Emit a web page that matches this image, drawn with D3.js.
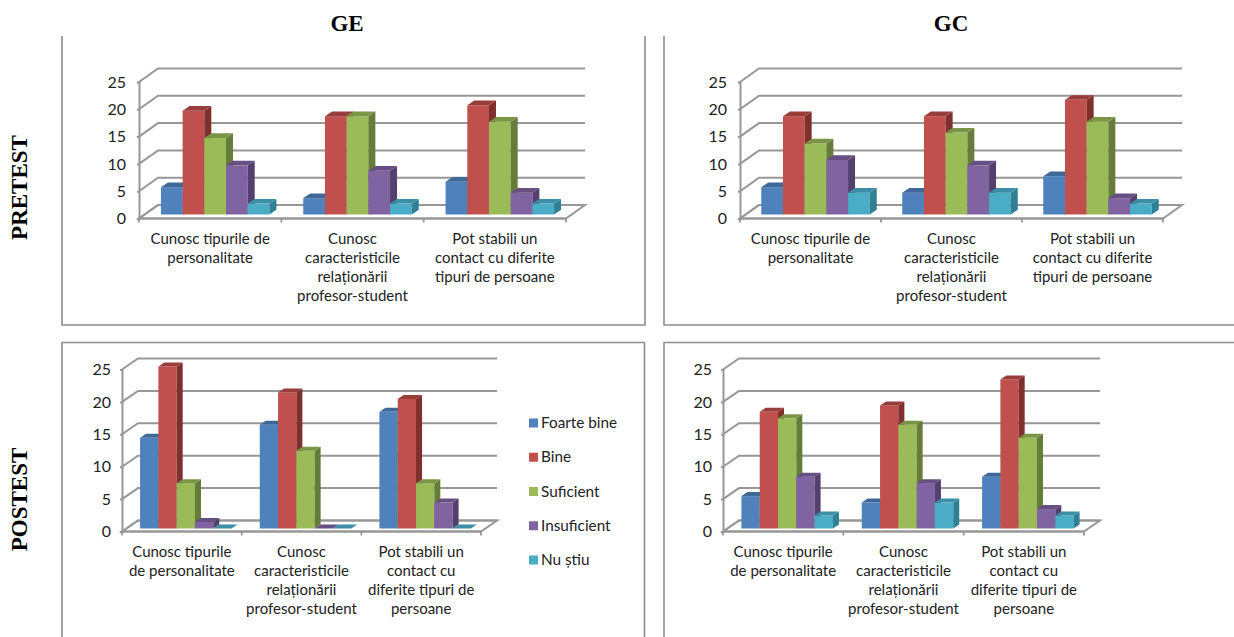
<!DOCTYPE html>
<html>
<head>
<meta charset="utf-8">
<script src="https://cdn.jsdelivr.net/npm/d3@7"></script>
<style>
html, body { margin: 0; padding: 0; background: #fff; }
svg { display: block; }
.lbl { font-family: Lato, sans-serif; fill: #222; }
.head { font-family: "Liberation Serif", serif; font-weight: bold; fill: #000; }
</style>
</head>
<body>
<div id="chart"></div>
<script>
var seriesNames = ['Foarte bine', 'Bine', 'Suficient', 'Insuficient', 'Nu știu'];
var categories = ['a', 'b', 'c'];
var yTicks = [0, 5, 10, 15, 20, 25];

var fronts = ['#4f81bd', '#c0504d', '#9bbb59', '#8064a2', '#4bacc6'];
var sides = ['#385d8a', '#7f2f2d', '#667c3a', '#54406e', '#2f7f95'];
var tops = ['#3f6797', '#983d3a', '#7b9546', '#664f82', '#3b8ea5'];

var labelsTop = [
	['Cunosc tipurile de', 'personalitate'],
	['Cunosc', 'caracteristicile', 'relaționării', 'profesor-student'],
	['Pot stabili un', 'contact cu diferite', 'tipuri de persoane']
];
var labelsBottom = [
	['Cunosc tipurile', 'de personalitate'],
	['Cunosc', 'caracteristicile', 'relaționării', 'profesor-student'],
	['Pot stabili un', 'contact cu', 'diferite tipuri de', 'persoane']
];

var gePre = [[5, 19, 14, 9, 2], [3, 18, 18, 8, 2], [6, 20, 17, 4, 2]];
var gcPre = [[5, 18, 13, 10, 4], [4, 18, 15, 9, 4], [7, 21, 17, 3, 2]];
var gePost = [[14, 25, 7, 1, 0], [16, 21, 12, 0, 0], [18, 20, 7, 4, 0]];
var gcPost = [[5, 18, 17, 8, 2], [4, 19, 16, 7, 4], [8, 23, 14, 3, 2]];

var w = 1234, h = 637;
var svg = d3.select('#chart').append('svg').attr('width', w).attr('height', h);

// frames round the pasted charts
var frameColor = '#8c8c8c';
function frame(d){
	svg.append('path').attr('d', d).attr('fill', 'none').attr('stroke', frameColor).attr('stroke-width', 1.6);
}
frame('M62,36V325H645V36');
frame('M664,36V325H1234');
frame('M62,637V342.5H644.5V637');
frame('M664,637V342.5H1234');

function drawChart(o){
	var g = svg.append('g');
	var y = d3.scaleLinear().domain([0, 25]).range([o.y0, o.y25]);
	var x = d3.scaleBand().domain(categories).range([o.x0, o.x1]);
	var pad = (x.bandwidth() - o.barW * 5) / 2;
	var xs = d3.scaleBand().domain(seriesNames).range([pad, x.bandwidth() - pad]);
	var bw = xs.bandwidth();
	var line = '#979797';

	// floor
	g.append('path')
		.attr('d', 'M' + o.x0 + ',' + o.y0 + 'L' + (o.x0 + o.dx) + ',' + (o.y0 - o.dy) + 'H' + (o.x1 + o.dx) + 'L' + o.x1 + ',' + o.y0 + 'Z')
		.attr('fill', '#fff').attr('stroke', line).attr('stroke-width', 2);

	// walls
	g.selectAll('.grid').data(yTicks).enter().append('path').attr('class', 'grid')
		.attr('d', function(d){
			return 'M' + o.x0 + ',' + y(d) + 'L' + (o.x0 + o.dx) + ',' + (y(d) - o.dy) + 'H' + (o.x1 + o.dx);
		})
		.attr('fill', 'none').attr('stroke', line).attr('stroke-width', 2);

	// y axis, labels only, the line is drawn with the walls
	var ay = g.append('g').attr('transform', 'translate(' + o.x0 + ',0)')
		.call(d3.axisLeft(y).tickValues(yTicks).tickSize(2).tickPadding(o.tickPad));
	ay.selectAll('path,line').attr('stroke', line).attr('stroke-width', 2);
	ay.selectAll('text').attr('class', 'lbl').attr('font-size', 16).attr('font-family', 'Lato, sans-serif').attr('fill', '#222');

	// x axis ticks
	var ticks = [o.x0].concat(categories.map(function(c){ return x(c) + x.bandwidth(); }));
	g.selectAll('.xt').data(ticks).enter().append('line').attr('class', 'xt')
		.attr('x1', function(d){ return d; }).attr('x2', function(d){ return d; })
		.attr('y1', o.y0).attr('y2', o.y0 + 4)
		.attr('stroke', line).attr('stroke-width', 1.8);
	g.append('line').attr('x1', o.x0).attr('x2', o.x1).attr('y1', o.y0).attr('y2', o.y0)
		.attr('stroke', line).attr('stroke-width', 2.2);

	// bars
	o.values.forEach(function(vals, c){
		vals.forEach(function(v, s){
			var bx = x(categories[c]) + xs(seriesNames[s]) + o.off;
			var base = o.y0 - o.lift;
			var top = y(v) - o.lift;
			if(v > 0){
				g.append('rect').attr('x', bx).attr('y', top).attr('width', bw).attr('height', base - top).attr('fill', fronts[s]);
				g.append('path')
					.attr('d', 'M' + (bx + bw) + ',' + top + 'l' + o.bdx + ',' + (-o.bdy) + 'V' + (base - o.bdy) + 'L' + (bx + bw) + ',' + base + 'Z')
					.attr('fill', sides[s]);
			}
			g.append('path')
				.attr('d', 'M' + bx + ',' + top + 'l' + o.bdx + ',' + (-o.bdy) + 'h' + bw + 'l' + (-o.bdx) + ',' + o.bdy + 'Z')
				.attr('fill', tops[s]);
		});
	});

	// category labels
	o.labels.forEach(function(lines, c){
		var t = g.append('text').attr('class', 'lbl').attr('text-anchor', 'middle').attr('font-size', 15)
			.attr('x', x(categories[c]) + x.bandwidth() / 2).attr('y', o.labelY);
		lines.forEach(function(l, i){
			t.append('tspan').attr('x', x(categories[c]) + x.bandwidth() / 2).attr('dy', i ? 19 : 0).text(l);
		});
	});
}

var topGeom = { y0: 218.5, y25: 82, barW: 21.7, dx: 19, dy: 13.5, bdx: 7, bdy: 4.7, off: 5, lift: 4, tickPad: 11, labelY: 244 };
var botGeom = { y0: 531.5, y25: 369.5, barW: 18.3, dx: 16, dy: 11, bdx: 6, bdy: 4, off: 4, lift: 3, tickPad: 9, labelY: 557 };

drawChart(Object.assign({}, topGeom, { x0: 139, x1: 566, values: gePre, labels: labelsTop }));
drawChart(Object.assign({}, topGeom, { x0: 740, x1: 1163, values: gcPre, labels: labelsTop }));
drawChart(Object.assign({}, botGeom, { x0: 122, x1: 481, values: gePost, labels: labelsBottom }));
drawChart(Object.assign({}, botGeom, { x0: 723, x1: 1084, values: gcPost, labels: labelsBottom }));

// legend
var legendY = d3.scalePoint().domain(seriesNames).range([423, 560]);
var lg = svg.append('g');
seriesNames.forEach(function(n, i){
	lg.append('rect').attr('x', 529).attr('y', legendY(n) - 4.5).attr('width', 9).attr('height', 9).attr('fill', fronts[i]);
	lg.append('text').attr('class', 'lbl').attr('x', 541).attr('y', legendY(n) + 5).attr('font-size', 15.3).text(n);
});

// headings
svg.append('text').attr('class', 'head').attr('x', 347).attr('y', 31).attr('text-anchor', 'middle').attr('font-size', 23).text('GE');
svg.append('text').attr('class', 'head').attr('x', 951).attr('y', 31).attr('text-anchor', 'middle').attr('font-size', 23).text('GC');
svg.append('text').attr('class', 'head').attr('transform', 'translate(27,187.5) rotate(-90)').attr('text-anchor', 'middle').attr('font-size', 23).text('PRETEST');
svg.append('text').attr('class', 'head').attr('transform', 'translate(27,499.5) rotate(-90)').attr('text-anchor', 'middle').attr('font-size', 23).text('POSTEST');
</script>
</body>
</html>
